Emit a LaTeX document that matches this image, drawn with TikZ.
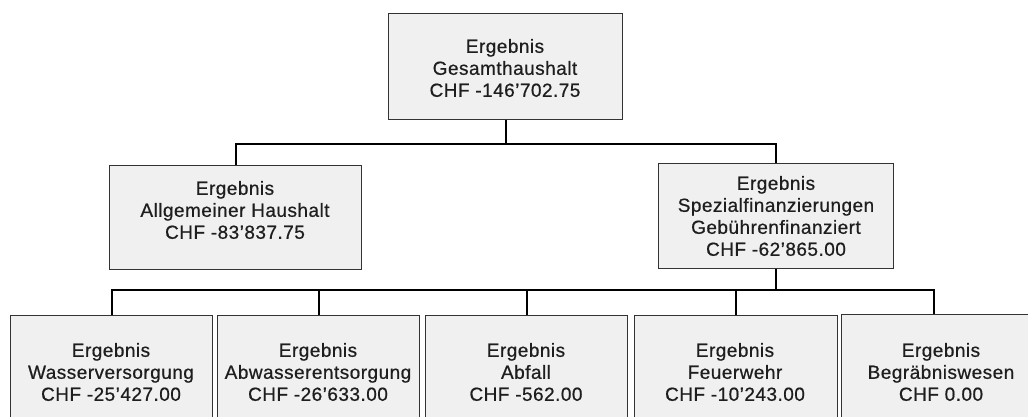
\documentclass[tikz,border=0pt]{standalone}
\usepackage{fontspec}
\setmainfont{Liberation Sans}[LetterSpace=2.5,FakeBold=0.6]
\newcommand{\sq}{\char"27\relax}
\begin{document}
\begin{tikzpicture}[x=1pt,y=-1pt,
  box/.style={draw=boxline, fill=boxfill, line width=1.3pt, anchor=north west, inner sep=0pt},
  lbl/.style={align=center, inner sep=0pt, font=\fontsize{19}{22}\selectfont, text=txt},
  conn/.style={draw=black, line width=2pt}]
\definecolor{boxline}{HTML}{333333}
\definecolor{boxfill}{HTML}{F0F0F0}
\definecolor{txt}{HTML}{1E1E1E}
\clip (0,0) rectangle (1028,416);
\fill[white] (0,0) rectangle (1028,416);
% boxes
\node[box, minimum width=234pt, minimum height=106pt] (top) at (388,13) {};
\node[box, minimum width=252pt, minimum height=104pt] (allg) at (109,165) {};
\node[box, minimum width=235pt, minimum height=105pt] (spez) at (658,163) {};
\node[box, minimum width=202pt, minimum height=140pt] (b1) at (10,315) {};
\node[box, minimum width=202pt, minimum height=140pt] (b2) at (217,315) {};
\node[box, minimum width=202pt, minimum height=140pt] (b3) at (425,315) {};
\node[box, minimum width=203pt, minimum height=140pt] (b4) at (634,315) {};
\node[box, minimum width=203pt, minimum height=140pt] (b5) at (841,314) {};
\coordinate (c5) at (934,314);
% labels
\node[lbl] (ttop) at (505,68) {Ergebnis\\Gesamthaushalt\\CHF -146\sq702.75};
\node[lbl] (tallg) at (235,210) {Ergebnis\\Allgemeiner Haushalt\\CHF -83\sq837.75};
\node[lbl] (tspez) at (776,216) {Ergebnis\\Spezialfinanzierungen\\Gebührenfinanziert\\CHF -62\sq865.00};
\node[lbl] (tb1) at (111,372) {Ergebnis\\Wasserversorgung\\CHF -25’427.00};
\node[lbl] (tb2) at (318,372) {Ergebnis\\Abwasserentsorgung\\CHF -26’633.00};
\node[lbl] (tb3) at (526,372) {Ergebnis\\Abfall\\CHF -562.00};
\node[lbl] (tb4) at (735,372) {Ergebnis\\Feuerwehr\\CHF -10’243.00};
\node[lbl] (tb5) at (941,372) {Ergebnis\\Begräbniswesen\\CHF 0.00};
% connectors
\draw[conn] (top.south) -- ++(0,24) -| (allg.north);
\draw[conn] (top.south) -- ++(0,24) -| (spez.north);
\draw[conn] (spez.south) -- ++(0,21) -| (b1.north);
\draw[conn] (spez.south) -- ++(0,21) -| (b2.north);
\draw[conn] (spez.south) -- ++(0,21) -| (b3.north);
\draw[conn] (spez.south) -- ++(0,21) -| (b4.north);
\draw[conn] (spez.south) -- ++(0,21) -| (c5);
\end{tikzpicture}
\end{document}
